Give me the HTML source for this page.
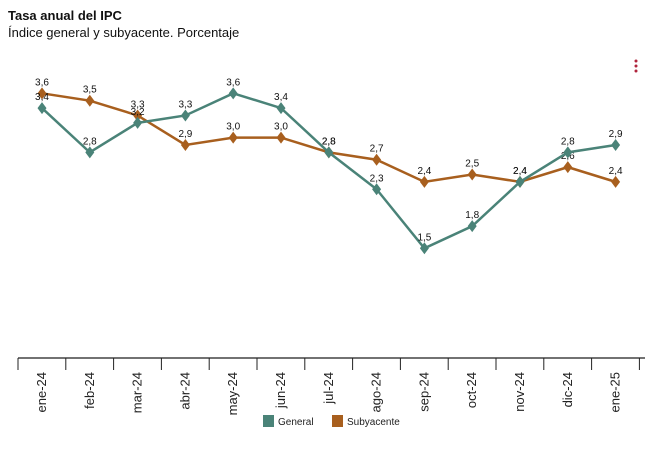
<!DOCTYPE html>
<html><head><meta charset="utf-8"><style>
body{margin:0;background:#fff;width:649px;height:446px;overflow:hidden;font-family:"Liberation Sans",Arial,sans-serif}
</style></head><body>
<svg width="649" height="446" xmlns="http://www.w3.org/2000/svg" font-family="Liberation Sans, Arial, sans-serif">
<text x="8" y="20" font-size="13" font-weight="bold" fill="#111">Tasa anual del IPC</text>
<text x="8" y="37" font-size="13" fill="#111">Índice general y subyacente. Porcentaje</text>
<g fill="#b0243c"><circle cx="636" cy="61" r="1.5"/><circle cx="636" cy="66" r="1.5"/><circle cx="636" cy="71" r="1.5"/></g>
<line x1="18" y1="358" x2="645" y2="358" stroke="#444" stroke-width="1.5"/>
<g id="ticks" stroke="#222" stroke-width="1"></g>
<g id="xl" font-size="13" fill="#222"></g>
<g id="series"></g>
<rect x="263" y="415" width="11" height="12" fill="#4a8378"/>
<text x="278" y="425" font-size="10" fill="#222">General</text>
<rect x="332" y="415" width="11" height="12" fill="#a85f1e"/>
<text x="347" y="425" font-size="10" fill="#222">Subyacente</text>
</svg>
<script>
var ns="http://www.w3.org/2000/svg";
var m=["ene-24","feb-24","mar-24","abr-24","may-24","jun-24","jul-24","ago-24","sep-24","oct-24","nov-24","dic-24","ene-25"];
var g=[3.4,2.8,3.2,3.3,3.6,3.4,2.8,2.3,1.5,1.8,2.4,2.8,2.9];
var s=[3.6,3.5,3.3,2.9,3.0,3.0,2.8,2.7,2.4,2.5,2.4,2.6,2.4];
function X(i){return 42+i*47.8}function Y(v){return 359-v*73.8}
var t=document.getElementById("ticks"),xl=document.getElementById("xl"),se=document.getElementById("series");
function el(n,a,p,tx){var e=document.createElementNS(ns,n);for(var k in a)e.setAttribute(k,a[k]);if(tx)e.textContent=tx;p.appendChild(e);return e}
for(var i=0;i<=13;i++){var x=X(i)-24;el("line",{x1:x,y1:358,x2:x,y2:370},t)}
m.forEach(function(l,i){var x=X(i)+4,y=372;el("text",{x:x,y:y,transform:"rotate(-90 "+x+" "+y+")","text-anchor":"end"},xl,l)});
function draw(d,c){var p=d.map(function(v,i){return X(i)+","+Y(v)}).join(" ");
el("polyline",{points:p,fill:"none",stroke:c,"stroke-width":2.5},se);
d.forEach(function(v,i){var x=X(i),y=Y(v);el("polygon",{points:x+","+(y-6)+" "+(x+4.5)+","+y+" "+x+","+(y+6)+" "+(x-4.5)+","+y,fill:c},se);
el("text",{x:x,y:y-8,"text-anchor":"middle","font-size":10,fill:"#111"},se,v.toFixed(1).replace(".",","))})}
draw(s,"#a85f1e");draw(g,"#4a8378");
</script>
</body></html>
